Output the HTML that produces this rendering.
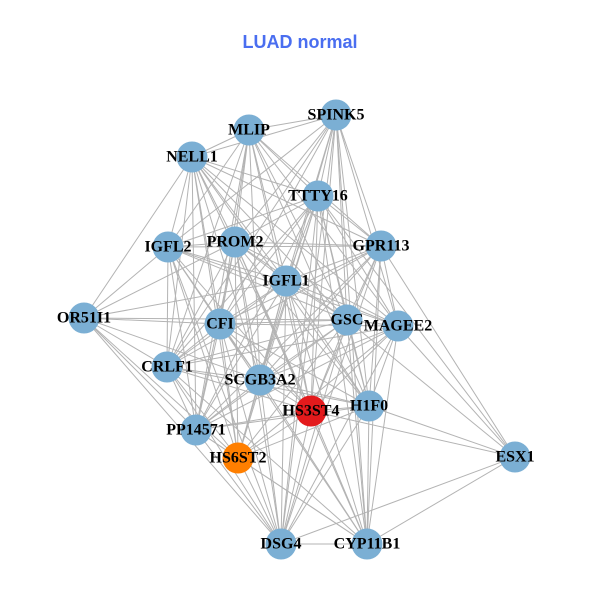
<!DOCTYPE html>
<html><head><meta charset="utf-8"><style>
html,body{margin:0;padding:0;background:#fff;width:600px;height:600px;overflow:hidden}
svg{display:block}
.e line{stroke:#b3b3b3;stroke-width:1}
.l{font-family:"Liberation Serif",serif;font-weight:bold;font-size:16px;fill:#000;text-anchor:middle;dominant-baseline:central}
</style></head><body>
<svg id="s" width="600" height="600" viewBox="0 0 600 600" xmlns="http://www.w3.org/2000/svg">
<text x="300" y="48" font-family="Liberation Sans, sans-serif" font-weight="bold" font-size="18" fill="#4a6ef0" text-anchor="middle">LUAD normal</text>
<g class="e" id="edges"></g>
<g id="nodes"></g>
</svg>
<script>
var N={SPINK5:[336,115],MLIP:[249,130],NELL1:[192,157],TTTY16:[318,196],IGFL2:[168,247],PROM2:[235,242],GPR113:[381,246],IGFL1:[286,281],OR51I1:[84,318],CFI:[220,324],GSC:[347,320],MAGEE2:[398,326],CRLF1:[167,367],SCGB3A2:[260,380],H1F0:[369,406],HS3ST4:[311,411],PP14571:[196,430],HS6ST2:[238,458],ESX1:[515,457],DSG4:[281,544],CYP11B1:[367,544]};
var E={
SPINK5:"MLIP NELL1 TTTY16 GPR113 PROM2 IGFL2 IGFL1 CFI GSC MAGEE2 H1F0 SCGB3A2 HS3ST4 CRLF1 DSG4 CYP11B1",
MLIP:"NELL1 TTTY16 PROM2 IGFL2 IGFL1 CFI GPR113 GSC MAGEE2 SCGB3A2 CRLF1 HS3ST4 H1F0 PP14571",
NELL1:"TTTY16 GPR113 IGFL2 PROM2 OR51I1 CFI IGFL1 GSC MAGEE2 CRLF1 SCGB3A2 PP14571 HS6ST2 HS3ST4 H1F0",
TTTY16:"IGFL2 PROM2 GPR113 IGFL1 CFI GSC MAGEE2 SCGB3A2 HS3ST4 H1F0 CRLF1 PP14571 HS6ST2 DSG4 CYP11B1 ESX1",
IGFL2:"PROM2 GPR113 OR51I1 CFI IGFL1 CRLF1 SCGB3A2 GSC PP14571 HS6ST2 DSG4 HS3ST4 MAGEE2",
PROM2:"GPR113 IGFL1 CFI GSC MAGEE2 OR51I1 CRLF1 SCGB3A2 HS3ST4 H1F0 PP14571 HS6ST2 DSG4 CYP11B1",
GPR113:"IGFL1 GSC MAGEE2 CFI SCGB3A2 H1F0 HS3ST4 ESX1 CRLF1 PP14571 DSG4 CYP11B1",
IGFL1:"CFI GSC MAGEE2 SCGB3A2 HS3ST4 H1F0 CRLF1 PP14571 HS6ST2 DSG4 CYP11B1 OR51I1",
OR51I1:"CFI CRLF1 SCGB3A2 PP14571 HS6ST2 DSG4 GSC",
CFI:"GSC MAGEE2 CRLF1 SCGB3A2 HS3ST4 H1F0 PP14571 HS6ST2 DSG4 CYP11B1",
GSC:"MAGEE2 SCGB3A2 HS3ST4 H1F0 CRLF1 PP14571 HS6ST2 DSG4 CYP11B1 ESX1",
MAGEE2:"SCGB3A2 H1F0 HS3ST4 CRLF1 PP14571 HS6ST2 ESX1 DSG4 CYP11B1",
CRLF1:"SCGB3A2 PP14571 HS6ST2 HS3ST4 H1F0 DSG4 CYP11B1",
SCGB3A2:"HS3ST4 H1F0 PP14571 HS6ST2 DSG4 CYP11B1",
H1F0:"HS3ST4 PP14571 ESX1 DSG4 CYP11B1 HS6ST2",
HS3ST4:"PP14571 HS6ST2 DSG4 CYP11B1 ESX1",
PP14571:"HS6ST2 DSG4 CYP11B1",
HS6ST2:"DSG4 CYP11B1",
ESX1:"DSG4 CYP11B1",
DSG4:"CYP11B1"};
var ns="http://www.w3.org/2000/svg",eg=document.getElementById("edges"),ng=document.getElementById("nodes");
for(var a in E){E[a].split(" ").forEach(function(b){var l=document.createElementNS(ns,"line");l.setAttribute("x1",N[a][0]);l.setAttribute("y1",N[a][1]);l.setAttribute("x2",N[b][0]);l.setAttribute("y2",N[b][1]);eg.appendChild(l);});}
for(var k in N){var c=document.createElementNS(ns,"circle");c.setAttribute("cx",N[k][0]);c.setAttribute("cy",N[k][1]);c.setAttribute("r",15.5);c.setAttribute("fill",k=="HS3ST4"?"#e31a1c":k=="HS6ST2"?"#ff7f00":"#7bafd4");ng.appendChild(c);}
for(var k in N){var t=document.createElementNS(ns,"text");t.setAttribute("x",N[k][0]);t.setAttribute("y",N[k][1]);t.setAttribute("class","l");t.textContent=k;ng.appendChild(t);}
</script>
<noscript></noscript>
</body></html>
